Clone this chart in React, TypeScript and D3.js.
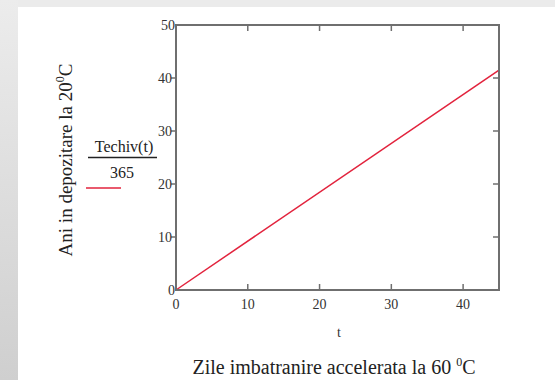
import React from "react";
import * as d3 from "d3";

// Accelerated ageing days vs. equivalent storage years
const days = [0, 45];
const years = [0, 41.5];
const xTicks = [0, 10, 20, 30, 40];
const yTicks = [0, 10, 20, 30, 40, 50];

const W = 555;
const H = 380;
const box = { left: 176, right: 499, top: 25, bottom: 290 };
const serif = "'Liberation Serif', 'Times New Roman', serif";
const axisColor = "#6f6f6f";
const lineColor = "#e2233d";

export default function App() {
  const x = d3.scaleLinear().domain([0, 45]).range([box.left, box.right]);
  const y = d3.scaleLinear().domain([0, 50]).range([box.bottom, box.top]);
  const line = d3
    .line<number>()
    .x((_, i) => x(days[i]))
    .y((d) => y(d));

  return (
    <svg
      width={W}
      height={H}
      style={{ position: "absolute", left: 0, top: 0, display: "block" }}
    >
      <defs>
        <linearGradient id="side" x1="0" y1="0" x2="0" y2="1">
          <stop offset="0" stopColor="#ececec" />
          <stop offset="1" stopColor="#cfcfcf" />
        </linearGradient>
      </defs>
      <rect x={0} y={0} width={W} height={H} fill="#ffffff" />
      <rect x={0} y={0} width={W} height={7} fill="#ebebeb" />
      <rect x={0} y={0} width={18} height={H} fill="url(#side)" />

      {/* series */}
      <path d={line(years) ?? ""} fill="none" stroke={lineColor} strokeWidth={1.5} />

      {/* frame */}
      <rect
        x={box.left}
        y={box.top}
        width={box.right - box.left}
        height={box.bottom - box.top}
        fill="none"
        stroke={axisColor}
        strokeWidth={2}
      />

      {/* x ticks on bottom and top, pointing inward */}
      {xTicks.map((t) => (
        <g key={"x" + t}>
          {t > 0 && (
            <>
              <line x1={x(t)} x2={x(t)} y1={box.bottom} y2={box.bottom - 6} stroke={axisColor} strokeWidth={1.5} />
              <line x1={x(t)} x2={x(t)} y1={box.top} y2={box.top + 6} stroke={axisColor} strokeWidth={1.5} />
            </>
          )}
          <text
            x={x(t)}
            y={box.bottom + 19}
            textAnchor="middle"
            fontFamily={serif}
            fontSize={14}
            fill="#333"
          >
            {t}
          </text>
        </g>
      ))}

      {/* y ticks on left (outside) and right (inward) */}
      {yTicks.map((t) => (
        <g key={"y" + t}>
          {t > 0 && t < 50 && (
            <>
              <line x1={box.left - 5} x2={box.left} y1={y(t)} y2={y(t)} stroke={axisColor} strokeWidth={1.5} />
              <line x1={box.right} x2={box.right - 6} y1={y(t)} y2={y(t)} stroke={axisColor} strokeWidth={1.5} />
            </>
          )}
          <text
            x={box.left - (t > 0 && t < 50 ? 4 : 1)}
            y={y(t) + 5}
            textAnchor="end"
            fontFamily={serif}
            fontSize={14}
            fill="#333"
          >
            {t}
          </text>
        </g>
      ))}

      {/* x variable */}
      <text x={339} y={337} textAnchor="middle" fontFamily={serif} fontSize={14} fill="#333">
        t
      </text>

      {/* legend: expression as a fraction with line sample */}
      <text x={124} y={152} textAnchor="middle" fontFamily={serif} fontSize={16} fill="#222">
        Techiv(t)
      </text>
      <line x1={88} x2={157} y1={157.5} y2={157.5} stroke="#222" strokeWidth={1.6} />
      <text x={122} y={178} textAnchor="middle" fontFamily={serif} fontSize={16} fill="#222">
        365
      </text>
      <line x1={86} x2={121} y1={188} y2={188} stroke={lineColor} strokeWidth={1.5} />

      {/* axis titles */}
      <text
        transform="translate(72,160) rotate(-90)"
        textAnchor="middle"
        fontFamily={serif}
        fontSize={19}
        fill="#222"
      >
        Ani in depozitare la 20
        <tspan fontSize={12} dy={-8}>0</tspan>
        <tspan dy={8}>C</tspan>
      </text>
      <text x={334} y={374} textAnchor="middle" fontFamily={serif} fontSize={20} fill="#222">
        Zile imbatranire accelerata la 60{" "}
        <tspan fontSize={12} dy={-8}>0</tspan>
        <tspan dy={8}>C</tspan>
      </text>
    </svg>
  );
}
